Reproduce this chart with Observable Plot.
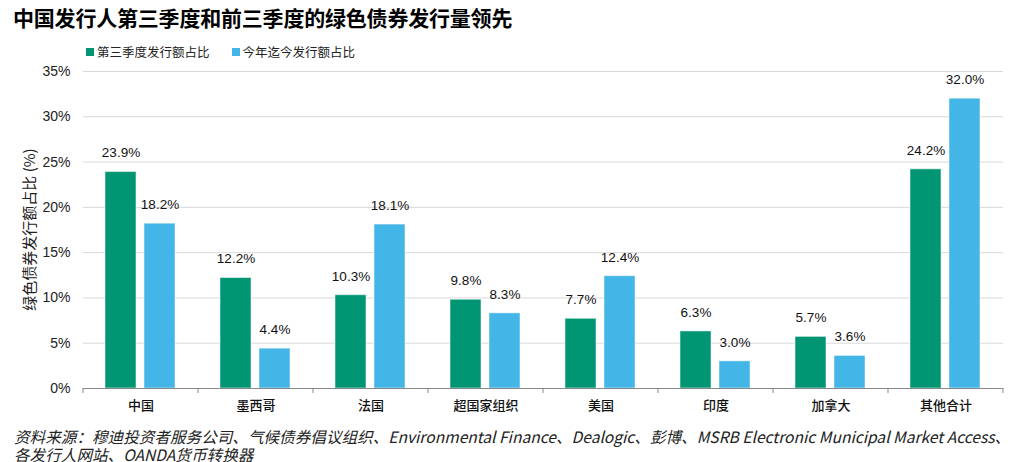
<!DOCTYPE html>
<html><head><meta charset="utf-8">
<script src="https://cdn.jsdelivr.net/npm/d3@7"></script>
<script src="https://cdn.jsdelivr.net/npm/@observablehq/plot@0.6"></script>
<style>
body{margin:0;width:1022px;height:462px;background:#fff;position:relative;overflow:hidden;font-family:"Noto Sans CJK SC","Noto Sans",sans-serif;}
#title{position:absolute;left:13px;top:2px;font-size:21px;font-weight:bold;color:#000;letter-spacing:-0.2px;white-space:nowrap;}
#legend{position:absolute;left:86px;top:42px;font-size:12.5px;color:#222;white-space:nowrap;display:flex;align-items:center;}
#legend .sw{display:inline-block;width:8px;height:8px;margin-right:3px;}
#legend .item{display:flex;align-items:center;margin-right:22px;}
#chart{position:absolute;left:0;top:62px;}
#caption{position:absolute;left:14px;top:427px;font-size:15.6px;font-style:italic;color:#222;line-height:18px;white-space:nowrap;}
</style></head>
<body>
<div id="title"></div>
<div id="legend"></div>
<div id="chart"></div>
<div id="caption"></div>
<script>
const titleText = "中国发行人第三季度和前三季度的绿色债券发行量领先";
const categories = ["中国","墨西哥","法国","超国家组织","美国","印度","加拿大","其他合计"];
const seriesNames = ["第三季度发行额占比","今年迄今发行额占比"];
const q3Share = [23.9,12.2,10.3,9.8,7.7,6.3,5.7,24.2];
const ytdShare = [18.2,4.4,18.1,8.3,12.4,3.0,3.6,32.0];
const yTicks = [0,5,10,15,20,25,30,35];
const yLabel = "绿色债券发行额占比 (%)";
const captionLines = ["资料来源：穆迪投资者服务公司、气候债券倡议组织、Environmental Finance、Dealogic、彭博、MSRB Electronic Municipal Market Access、","各发行人网站、OANDA货币转换器"];
const colors = ["#009673","#43b5e6"];

document.getElementById("title").textContent = titleText;
const lg = document.getElementById("legend");
seriesNames.forEach((s,i)=>{
  const it = document.createElement("span"); it.className="item";
  const sw = document.createElement("span"); sw.className="sw"; sw.style.background=colors[i];
  it.appendChild(sw); it.appendChild(document.createTextNode(s)); lg.appendChild(it);
});
const cap = document.getElementById("caption");
captionLines.forEach(l=>{const d=document.createElement("div");d.textContent=l;cap.appendChild(d);});

const data = [];
categories.forEach((c,i)=>{
  data.push({cat:c, series:seriesNames[0], v:q3Share[i]});
  data.push({cat:c, series:seriesNames[1], v:ytdShare[i]});
});

const plot = Plot.plot({
  width:1022, height:358,
  marginLeft:81, marginRight:18, marginTop:9, marginBottom:32,
  style:{fontFamily:"'Liberation Sans', Arial, sans-serif", fontSize:"13px", color:"#222", background:"transparent"},
  fx:{domain:categories, padding:0, label:null, axis:null},
  x:{domain:seriesNames, paddingInner:0.2, paddingOuter:0.55, axis:null},
  y:{domain:[0,35], ticks:yTicks, label:null},
  color:{domain:seriesNames, range:colors},
  marks:[
    Plot.gridY(yTicks.slice(1), {stroke:"#d9d9d9", strokeOpacity:1, strokeWidth:1}),
    Plot.axisY(yTicks, {tickSize:0, tickPadding:13, tickFormat:d=>d+"%", fontSize:14, fill:"#222", label:null}),
    Plot.axisFx({anchor:"bottom", tickSize:0, tickPadding:12, fontSize:13, fontFamily:"'Noto Sans CJK SC', sans-serif", fontWeight:500, fill:"#111", label:null}),
    Plot.barY(data, {fx:"cat", x:"series", y:"v", fill:"series", stroke:"#ffffff", strokeOpacity:0.5, strokeWidth:1}),
    Plot.text(data, {fx:"cat", x:"series", y:"v", text:d=>d.v.toFixed(1)+"%", dy:-19, fontSize:13.5, fill:"#111"}),
    Plot.ruleY([0], {stroke:"#888", strokeWidth:1})
  ]
});
document.getElementById("chart").appendChild(plot);

// y-axis title
const svg = d3.select(plot);
const ys = plot.scale("y");
const yMid = (ys.apply(0)+ys.apply(35))/2;
svg.append("text").attr("transform",`translate(31,${yMid}) rotate(-90)`)
  .attr("text-anchor","middle").attr("dominant-baseline","middle")
  .style("font-family","'Noto Sans CJK SC', sans-serif").style("font-size","15px").attr("fill","#222")
  .text(yLabel);
// category boundary ticks
const fxs = plot.scale("fx");
const y0 = ys.apply(0);
const bounds = categories.map(c=>fxs.apply(c)).concat([fxs.apply(categories[categories.length-1])+fxs.step]);
svg.append("g").selectAll("line").data(bounds).join("line")
  .attr("x1",d=>d).attr("x2",d=>d).attr("y1",y0).attr("y2",y0+5)
  .attr("stroke","#888").attr("stroke-width",1);
</script>
</body></html>
